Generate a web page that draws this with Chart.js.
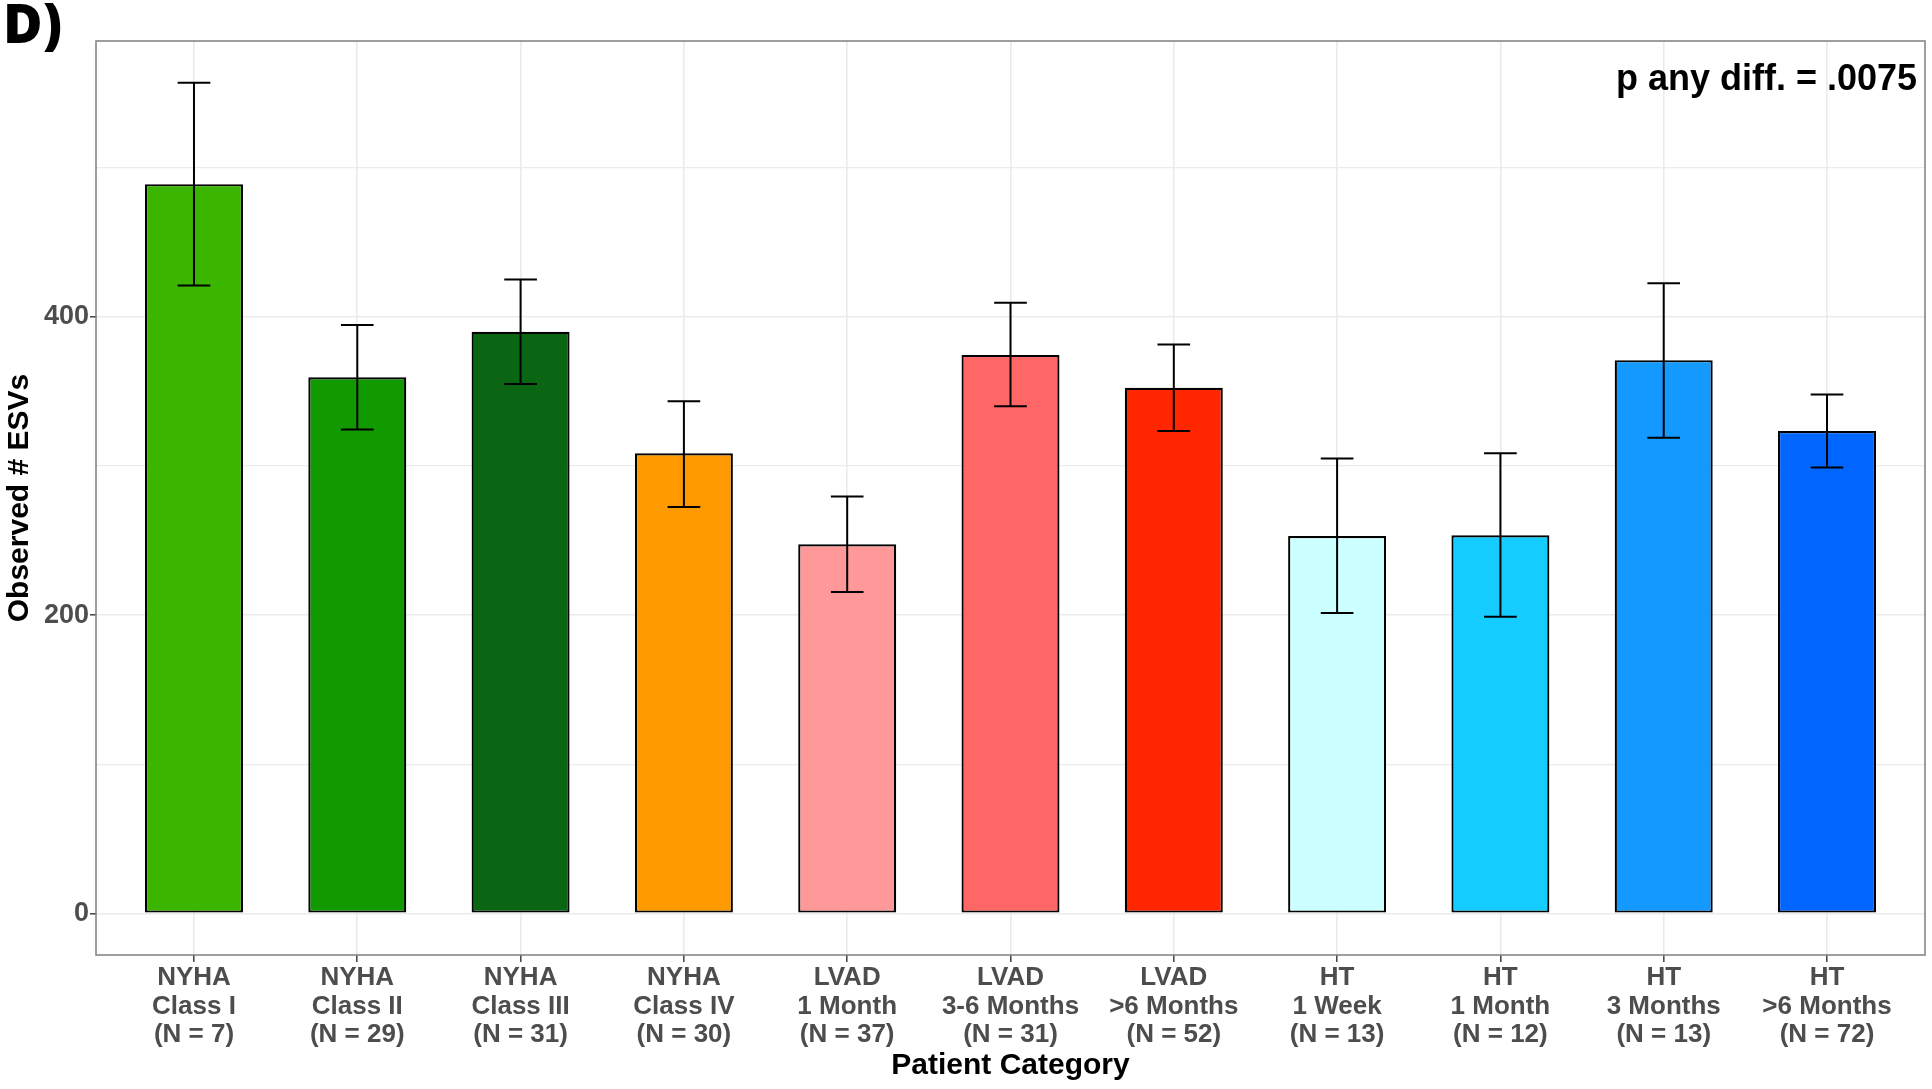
<!DOCTYPE html>
<html>
<head>
<meta charset="utf-8">
<script src="https://cdn.jsdelivr.net/npm/chart.js@4.4.1/dist/chart.umd.min.js"></script>
<style>
  html, body { margin: 0; padding: 0; background: #ffffff; }
  canvas { display: block; }
</style>
</head>
<body>
<canvas id="esvChart" width="1932" height="1089"></canvas>
<script>
// Patient categories (tick label lines)
const groups = ["NYHA", "NYHA", "NYHA", "NYHA", "LVAD", "LVAD", "LVAD", "HT", "HT", "HT", "HT"];
const stages = ["Class I", "Class II", "Class III", "Class IV", "1 Month", "3-6 Months", ">6 Months", "1 Week", "1 Month", "3 Months", ">6 Months"];
const sampleSizes = [7, 29, 31, 30, 37, 31, 52, 13, 12, 13, 72];

// Observed number of ESVs, with error bar limits
const meanESVs = [489, 359.5, 390, 308.5, 247.5, 374.5, 352.5, 253, 253.5, 371, 323.5];
const upperLimits = [557, 394.5, 425, 343.5, 279.5, 409.5, 381.5, 305, 308.5, 422.5, 348];
const lowerLimits = [421, 324.5, 355, 272.5, 215.5, 340, 323.5, 201.5, 199, 319, 299];

// y axis ticks (labelled ones are the major ones)
const yTicks = [0, 100, 200, 300, 400, 500];
const yLabelled = [0, 200, 400];

const barColors = [
  "#3ab500", // NYHA I
  "#109a00", // NYHA II
  "#0a6612", // NYHA III
  "#ff9900", // NYHA IV
  "#ff9999", // LVAD 1 month
  "#ff6666", // LVAD 3-6 months
  "#ff2600", // LVAD >6 months
  "#ccffff", // HT 1 week
  "#14ccff", // HT 1 month
  "#1399ff", // HT 3 months
  "#0066ff", // HT >6 months
];

const pText = "p any diff. = .0075";

const tickLabels = groups.map((g, i) => [g, stages[i], "(N = " + sampleSizes[i] + ")"]);

Chart.defaults.font.family = '"Liberation Sans", Arial, sans-serif';

// error bars, panel border and free text
const extrasPlugin = {
  id: "extras",
  afterDatasetsDraw(chart) {
    const { ctx, chartArea } = chart;
    const xs = chart.scales.x;
    const ys = chart.scales.y;
    const capHalf = xs.getPixelForValue(0.1) - xs.getPixelForValue(0);
    ctx.save();
    ctx.strokeStyle = "#000000";
    ctx.lineWidth = 2;
    meanESVs.forEach((v, i) => {
      const x = xs.getPixelForValue(i);
      const yHi = ys.getPixelForValue(upperLimits[i]);
      const yLo = ys.getPixelForValue(lowerLimits[i]);
      ctx.beginPath();
      ctx.moveTo(x, yHi);
      ctx.lineTo(x, yLo);
      ctx.moveTo(x - capHalf, yHi);
      ctx.lineTo(x + capHalf, yHi);
      ctx.moveTo(x - capHalf, yLo);
      ctx.lineTo(x + capHalf, yLo);
      ctx.stroke();
    });
    // panel border
    ctx.strokeStyle = "#7f7f7f";
    ctx.lineWidth = 1.5;
    ctx.strokeRect(chartArea.left, chartArea.top, chartArea.right - chartArea.left, chartArea.bottom - chartArea.top);
    ctx.restore();
  },
  afterDraw(chart) {
    const { ctx, chartArea } = chart;
    ctx.save();
    ctx.fillStyle = "#000000";
    ctx.font = 'bold 36px "Liberation Sans", Arial, sans-serif';
    ctx.textAlign = "right";
    ctx.textBaseline = "middle";
    ctx.fillText(pText, chartArea.right - 8, chartArea.top + 39);
    ctx.font = '800 54px "Open Sans", "Liberation Sans", sans-serif';
    ctx.textAlign = "left";
    ctx.textBaseline = "top";
    ctx.fillText("D)", 3, 1);
    ctx.restore();
  },
};

new Chart(document.getElementById("esvChart"), {
  type: "bar",
  data: {
    datasets: [
      {
        label: "Observed # ESVs",
        data: meanESVs.map((v, i) => ({ x: i, y: v })),
        backgroundColor: barColors,
        borderColor: "#000000",
        borderWidth: 2.2,
        borderSkipped: false,
        barPercentage: 0.6,
        categoryPercentage: 1,
      },
    ],
  },
  options: {
    responsive: false,
    animation: false,
    layout: { padding: { top: 41, right: 7, left: 0, bottom: 0 } },
    plugins: {
      legend: { display: false },
      tooltip: { enabled: false },
    },
    scales: {
      x: {
        type: "linear",
        min: -0.6,
        max: 10.6,
        offset: false,
        afterBuildTicks: (scale) => {
          scale.ticks = tickLabels.map((t, i) => ({ value: i }));
        },
        afterFit: (scale) => {
          scale.height = 134;
        },
        ticks: {
          autoSkip: false,
          maxRotation: 0,
          padding: 2,
          color: "#4d4d4d",
          font: { size: 26, weight: "bold", lineHeight: 1.09 },
          callback: (value) => tickLabels[value],
        },
        grid: {
          offset: false,
          color: "#ebebeb",
          lineWidth: 1.6,
          tickLength: 7,
          tickColor: "#4d4d4d",
        },
        border: { display: false },
        title: {
          display: true,
          text: "Patient Category",
          color: "#000000",
          font: { size: 30, weight: "bold", lineHeight: 1.2 },
          padding: { top: 0, bottom: 5 },
        },
      },
      y: {
        min: -27.9,
        max: 585,
        afterBuildTicks: (scale) => {
          scale.ticks = yTicks.map((v) => ({ value: v }));
        },
        afterFit: (scale) => {
          scale.width = 96;
        },
        ticks: {
          padding: 1,
          color: "#4d4d4d",
          font: { size: 27, weight: "bold" },
          callback: (value) => (yLabelled.includes(value) ? String(value) : ""),
        },
        grid: {
          color: "#ebebeb",
          lineWidth: (c) => (c.tick && yLabelled.includes(c.tick.value) ? 1.6 : 1.2),
          tickLength: 6,
          tickColor: (c) => (c.tick && yLabelled.includes(c.tick.value) ? "#4d4d4d" : "rgba(0,0,0,0)"),
        },
        border: { display: false },
        title: {
          display: true,
          text: "Observed # ESVs",
          color: "#000000",
          font: { size: 30, weight: "bold", lineHeight: 1.2 },
          padding: { top: 2, bottom: 0 },
        },
      },
    },
  },
  plugins: [extrasPlugin],
});
</script>
</body>
</html>
